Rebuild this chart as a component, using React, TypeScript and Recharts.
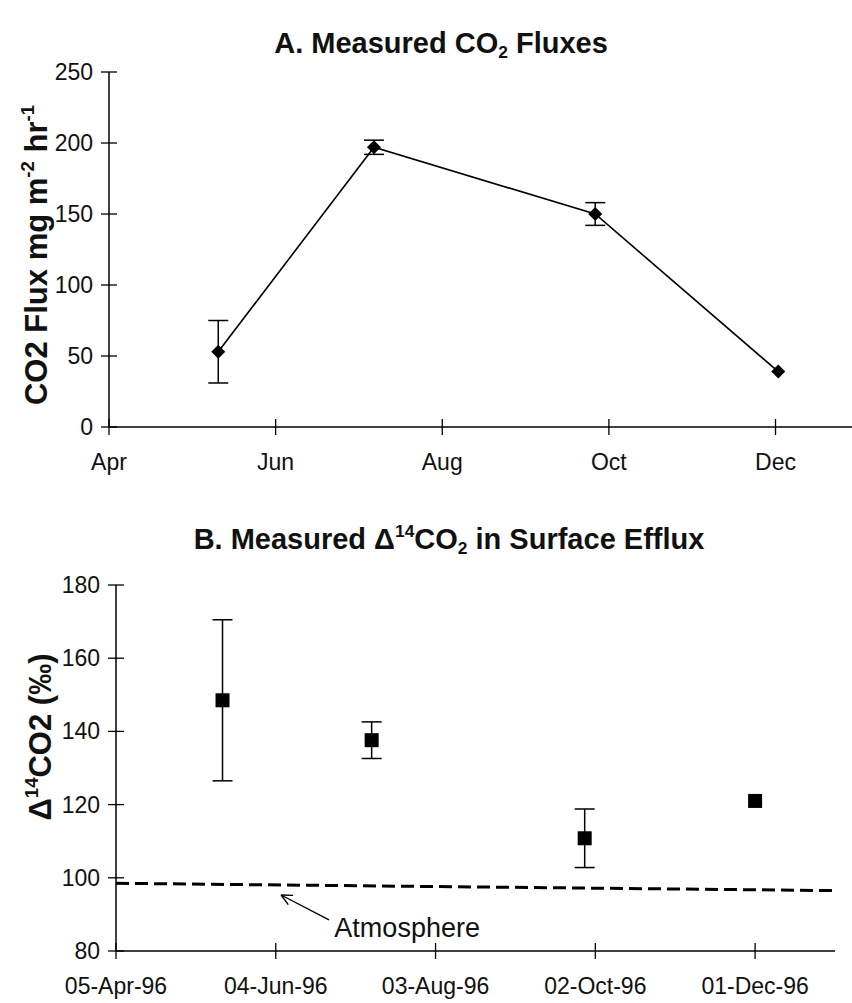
import React from 'react';
import { LineChart, ComposedChart, Line, Scatter, XAxis, YAxis, ErrorBar, ReferenceLine, ReferenceDot } from 'recharts';

const FONT = '"Liberation Sans", Arial, sans-serif';
const day = (s: string) => Date.parse(s + 'T00:00:00Z');

// Panel A: measured CO2 fluxes
const fluxDates = ['1996-05-11', '1996-07-07', '1996-09-26', '1996-12-02'];
const fluxValues = [53, 197, 150, 39];
const fluxErrors = [22, 5, 8, 0];
const fluxTickDates = ['1996-04-01', '1996-06-01', '1996-08-01', '1996-10-01', '1996-12-01'];
const fluxTickLabels = ['Apr', 'Jun', 'Aug', 'Oct', 'Dec'];
const fluxYTicks = [0, 50, 100, 150, 200, 250];

// Panel B: delta 14C of surface efflux
const c14Dates = ['1996-05-15', '1996-07-10', '1996-09-28', '1996-12-01'];
const c14Values = [148.5, 137.6, 110.8, 121];
const c14Errors = [22, 5, 8, 0];
const atmDates = ['1996-04-05', '1996-12-31'];
const atmValues = [98.5, 96.5];
const c14TickDates = ['1996-04-05', '1996-06-04', '1996-08-03', '1996-10-02', '1996-12-01'];
const c14TickLabels = ['05-Apr-96', '04-Jun-96', '03-Aug-96', '02-Oct-96', '01-Dec-96'];
const c14YTicks = [80, 100, 120, 140, 160, 180];

const fluxData = fluxDates.map((d, i) => ({ t: day(d), v: fluxValues[i], err: fluxErrors[i] }));
const c14Data = c14Dates.map((d, i) => ({ t: day(d), v: c14Values[i], err: c14Errors[i] }));
const atmData = atmDates.map((d, i) => ({ t: day(d), v: atmValues[i] }));
const fluxTicks = fluxTickDates.map(day);
const c14Ticks = c14TickDates.map(day);

const TS = 8;
const TM = 7;
const TICK_FONT = 23;

const YTick = (props: any) => {
  const { x, y, payload } = props;
  const ax = x + TS + TM;
  return (
    <g>
      <line x1={ax - TS} x2={ax + TS} y1={y} y2={y} stroke="#000" strokeWidth={1.3} />
      <text x={x - 1} y={y} dy={8} textAnchor="end" fontSize={TICK_FONT} fontFamily={FONT} fill="#111">
        {payload.value}
      </text>
    </g>
  );
};

const makeXTick = (ticks: number[], labels: string[]) => (props: any) => {
  const { x, y, payload } = props;
  const ay = y - TS - TM;
  const i = ticks.indexOf(payload.value);
  return (
    <g>
      <line x1={x} x2={x} y1={ay - TS} y2={ay + TS} stroke="#000" strokeWidth={1.3} />
      <text x={x} y={ay + 43} textAnchor="middle" fontSize={TICK_FONT} fontFamily={FONT} fill="#111">
        {labels[i]}
      </text>
    </g>
  );
};

const Diamond = (props: any) => {
  const { cx, cy } = props;
  if (cx == null || cy == null) return null;
  const r = 7;
  return <polygon points={`${cx},${cy - r} ${cx + r},${cy} ${cx},${cy + r} ${cx - r},${cy}`} fill="#000" />;
};

const Square = (props: any) => {
  const { cx, cy } = props;
  return <rect x={cx - 7} y={cy - 7} width={14} height={14} fill="#000" />;
};

const Arrow = (props: any) => {
  const { x1, y1, x2, y2 } = props;
  const a = Math.atan2(y2 - y1, x2 - x1);
  const L = 12;
  const s = 0.45;
  return (
    <g stroke="#000" strokeWidth={1.4}>
      <line x1={x1} y1={y1} x2={x2} y2={y2} />
      <line x1={x2} y1={y2} x2={x2 - L * Math.cos(a - s)} y2={y2 - L * Math.sin(a - s)} />
      <line x1={x2} y1={y2} x2={x2 - L * Math.cos(a + s)} y2={y2 - L * Math.sin(a + s)} />
    </g>
  );
};

const AtmText = (props: any) => (
  <text x={props.cx} y={props.cy} dy={9} fontSize={27} fontFamily={FONT} fill="#111">
    Atmosphere
  </text>
);

const axisStyle = { stroke: '#000', strokeWidth: 1.5 };

const titleStyle: React.CSSProperties = {
  position: 'absolute',
  transform: 'translate(-50%, -50%)',
  fontFamily: FONT,
  fontWeight: 'bold',
  fontSize: 29,
  whiteSpace: 'nowrap',
  color: '#111',
};

const yLabelStyle: React.CSSProperties = {
  position: 'absolute',
  transform: 'translate(-50%, -50%) rotate(-90deg)',
  fontFamily: FONT,
  fontWeight: 'bold',
  fontSize: 30,
  whiteSpace: 'nowrap',
  color: '#111',
};

const sub: React.CSSProperties = { fontSize: '0.6em', verticalAlign: '-0.25em' };
const sup: React.CSSProperties = { fontSize: '0.6em', verticalAlign: '0.7em' };

export default function App() {
  return (
    <div style={{ position: 'absolute', left: 0, top: 0, width: 852, height: 1003, background: '#fff', overflow: 'hidden' }}>
      <div style={{ ...titleStyle, left: 441, top: 45 }}>
        A. Measured CO<span style={sub}>2</span> Fluxes
      </div>
      <div style={{ ...yLabelStyle, left: 36, top: 255, fontSize: 31 }}>
        CO2 Flux mg m<span style={sup}>-2</span> hr<span style={sup}>-1</span>
      </div>
      <div style={{ position: 'absolute', left: 0, top: 0 }}>
        <LineChart width={852} height={485} margin={{ top: 72, right: 0, bottom: 18, left: 49 }}>
          <XAxis
            dataKey="t"
            type="number"
            domain={[day('1996-04-01'), day('1996-12-29')]}
            allowDataOverflow
            ticks={fluxTicks}
            tick={makeXTick(fluxTicks, fluxTickLabels)}
            tickLine={false}
            tickSize={TS}
            tickMargin={TM}
            axisLine={axisStyle}
            height={40}
          />
          <YAxis
            dataKey="v"
            type="number"
            domain={[0, 250]}
            ticks={fluxYTicks}
            tick={YTick}
            tickLine={false}
            tickSize={TS}
            tickMargin={TM}
            axisLine={axisStyle}
            width={60}
          />
          <Line
            data={fluxData}
            dataKey="v"
            stroke="#000"
            strokeWidth={1.6}
            dot={<Diamond />}
            activeDot={false}
            isAnimationActive={false}
          >
            <ErrorBar dataKey="err" width={10} stroke="#000" strokeWidth={1.5} direction="y" />
          </Line>
        </LineChart>
      </div>

      <div style={{ ...titleStyle, left: 449, top: 540 }}>
        B. Measured Δ<span style={sup}>14</span>CO<span style={sub}>2</span> in Surface Efflux
      </div>
      <div style={{ ...yLabelStyle, left: 40, top: 737, fontSize: 31 }}>
        Δ<span style={sup}>14</span>CO2 (‰)
      </div>
      <div style={{ position: 'absolute', left: 0, top: 500 }}>
        <ComposedChart width={852} height={503} margin={{ top: 85, right: 17, bottom: 7, left: 56 }}>
          <XAxis
            dataKey="t"
            type="number"
            domain={[day('1996-04-05'), day('1996-12-31')]}
            allowDataOverflow
            ticks={c14Ticks}
            tick={makeXTick(c14Ticks, c14TickLabels)}
            tickLine={false}
            tickSize={TS}
            tickMargin={TM}
            axisLine={axisStyle}
            height={45}
          />
          <YAxis
            dataKey="v"
            type="number"
            domain={[80, 180]}
            ticks={c14YTicks}
            tick={YTick}
            tickLine={false}
            tickSize={TS}
            tickMargin={TM}
            axisLine={axisStyle}
            width={60}
          />
          <Line
            data={atmData}
            dataKey="v"
            stroke="#000"
            strokeWidth={3}
            strokeDasharray="13 6"
            dot={false}
            activeDot={false}
            isAnimationActive={false}
          />
          <Scatter data={c14Data} shape={<Square />} isAnimationActive={false}>
            <ErrorBar dataKey="err" width={10} stroke="#000" strokeWidth={1.5} direction="y" />
          </Scatter>
          <ReferenceLine
            segment={[
              { x: day('1996-06-24'), y: 88.5 },
              { x: day('1996-06-06'), y: 95.3 },
            ]}
            shape={<Arrow />}
          />
          <ReferenceDot x={day('1996-06-26')} y={86.3} r={0} shape={<AtmText />} />
        </ComposedChart>
      </div>
    </div>
  );
}
